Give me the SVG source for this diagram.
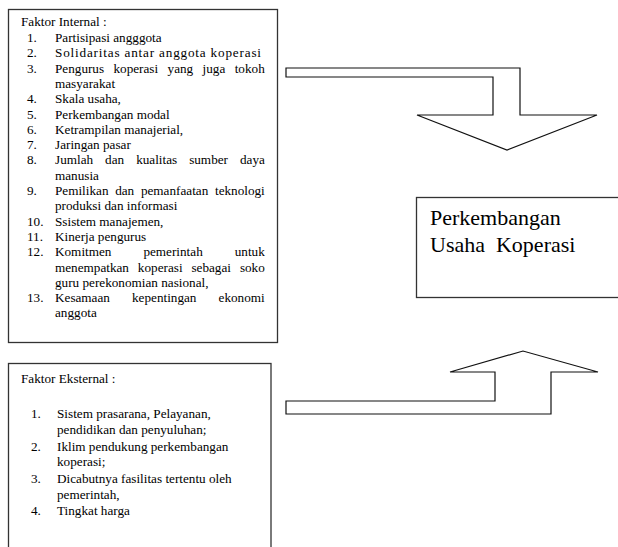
<svg xmlns="http://www.w3.org/2000/svg" width="618" height="547" viewBox="0 0 618 547">
<style>
.box{fill:#fff;stroke:#333;stroke-width:1.3}
.arrow{fill:#fff;stroke:#111;stroke-width:1.2;stroke-linejoin:miter}
.t{font-family:"Liberation Serif","Times New Roman",serif;font-size:13.2px;fill:#000}
.big{font-family:"Liberation Serif","Times New Roman",serif;font-size:22px;fill:#000}
</style>
<rect width="618" height="547" fill="#fff"/>
<g id="connectors">
<path class="arrow" d="M286,68 L520,68 L520,115 L597,115 L507,150 L417,115 L493,115 L493,77 L286,77 Z"/>
<path class="arrow" d="M286,401 L495,401 L495,372 L450,372 L523,351 L598,372 L551,372 L551,414 L286,414 Z"/>
</g>
<g id="internal">
<rect class="box" x="8.5" y="9.5" width="269" height="333"/>
<text class="t" x="21" y="26">Faktor Internal :</text>
<g class="t">
<text x="27" y="42">1.</text><text x="55" y="42">Partisipasi angggota</text>
<text x="27" y="57.3">2.</text><text x="55" y="57.3" textLength="206" lengthAdjust="spacing">Solidaritas antar anggota koperasi</text>
<text x="27" y="72.6">3.</text><text x="55" y="72.6" word-spacing="6.1">Pengurus koperasi yang juga tokoh</text>
<text x="55" y="87.9">masyarakat</text>
<text x="27" y="103.2">4.</text><text x="55" y="103.2">Skala usaha,</text>
<text x="27" y="118.5">5.</text><text x="55" y="118.5">Perkembangan modal</text>
<text x="27" y="133.8">6.</text><text x="55" y="133.8">Ketrampilan manajerial,</text>
<text x="27" y="149.1">7.</text><text x="55" y="149.1">Jaringan pasar</text>
<text x="27" y="164.4">8.</text><text x="55" y="164.4" word-spacing="8.7">Jumlah dan kualitas sumber daya</text>
<text x="55" y="179.7">manusia</text>
<text x="27" y="195">9.</text><text x="55" y="195" word-spacing="3.4">Pemilikan dan pemanfaatan teknologi</text>
<text x="55" y="210.3">produksi dan informasi</text>
<text x="27" y="225.6">10.</text><text x="55" y="225.6">Ssistem manajemen,</text>
<text x="27" y="240.9">11.</text><text x="55" y="240.9">Kinerja pengurus</text>
<text x="27" y="256.2">12.</text><text x="55" y="256.2" word-spacing="28.7">Komitmen pemerintah untuk</text>
<text x="55" y="271.5" word-spacing="5.6">menempatkan koperasi sebagai soko</text>
<text x="55" y="286.8">guru perekonomian nasional,</text>
<text x="27" y="302.1">13.</text><text x="55" y="302.1" word-spacing="18.8">Kesamaan kepentingan ekonomi</text>
<text x="55" y="317.4">anggota</text>
</g>
</g>
<g id="external">
<rect class="box" x="8.5" y="363.5" width="262.5" height="200"/>
<text class="t" x="21" y="382.5">Faktor Eksternal :</text>
<g class="t">
<text x="31" y="417.5">1.</text><text x="57" y="417.5">Sistem prasarana, Pelayanan,</text>
<text x="57" y="433.5">pendidikan dan penyuluhan;</text>
<text x="31" y="450.5">2.</text><text x="57" y="450.5">Iklim pendukung perkembangan</text>
<text x="57" y="465.5">koperasi;</text>
<text x="31" y="482.5">3.</text><text x="57" y="482.5">Dicabutnya fasilitas tertentu oleh</text>
<text x="57" y="498.5">pemerintah,</text>
<text x="31" y="514.5">4.</text><text x="57" y="514.5">Tingkat harga</text>
</g>
</g>
<g id="output">
<rect class="box" x="416.5" y="197.5" width="210" height="100"/>
<text class="big" x="430" y="225">Perkembangan</text>
<text class="big" x="430" y="252" xml:space="preserve">Usaha  Koperasi</text>
</g>
</svg>
